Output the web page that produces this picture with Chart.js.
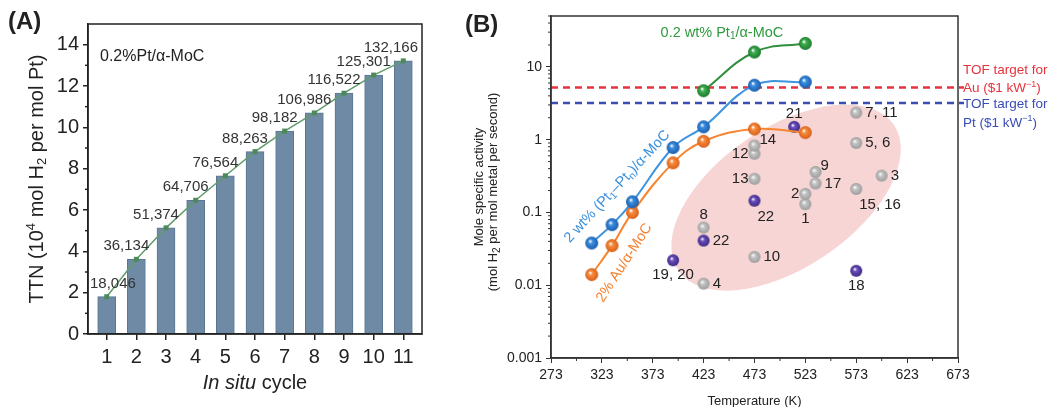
<!DOCTYPE html>
<html>
<head>
<meta charset="utf-8">
<script src="https://cdn.jsdelivr.net/npm/chart.js@4"></script>
<style>
  body { margin: 0; background: #fff; width: 1056px; height: 407px; overflow: hidden; position: relative; }
  canvas { position: absolute; top: 0; }
  #chartA { left: 0; }
  #chartB { left: 440px; }
</style>
</head>
<body>
<canvas id="chartA" width="440" height="407"></canvas>
<canvas id="chartB" width="616" height="407"></canvas>
<script>
// ---- Panel A data ----
var cycles = [1, 2, 3, 4, 5, 6, 7, 8, 9, 10, 11];
var ttn = [18046, 36134, 51374, 64706, 76564, 88263, 98182, 106986, 116522, 125301, 132166];
var ttnTicks = [0, 2, 4, 6, 8, 10, 12, 14];

// ---- Panel B data ----
var tempTicks = [273, 323, 373, 423, 473, 523, 573, 623, 673];
var activityTicks = [0.001, 0.01, 0.1, 1, 10];

var pt1Temp = [423, 473, 523];
var pt1Activity = [4.7, 16, 21];

var ptnTemp = [313, 333, 353, 393, 423, 473, 523];
var ptnActivity = [0.038, 0.068, 0.14, 0.78, 1.5, 5.6, 6.2];

var auTemp = [313, 333, 353, 393, 423, 473, 523];
var auActivity = [0.014, 0.035, 0.10, 0.48, 0.95, 1.4, 1.25];

var auTarget = 5.2;
var ptTarget = 3.2;

var greyLabels = ['1', '2', '3', '4', '5, 6', '7, 11', '8', '9', '10', '12', '13', '14', '15, 16', '17'];
var greyTemp = [523, 523, 598, 423, 573, 573, 423, 533, 473, 473, 473, 473, 573, 533];
var greyActivity = [0.13, 0.18, 0.32, 0.0105, 0.9, 2.35, 0.062, 0.36, 0.0245, 0.64, 0.29, 0.83, 0.21, 0.25];
var greySide = ['below', 'left', 'right', 'right', 'right', 'right', 'above', 'aboveright', 'right', 'left', 'left', 'aboveright', 'belowright', 'right'];

var purpleLabels = ['18', '19, 20', '21', '22', '22'];
var purpleTemp = [573, 393, 512, 473, 423];
var purpleActivity = [0.0158, 0.022, 1.5, 0.145, 0.041];
var purpleSide = ['below', 'below', 'above', 'belowright', 'right'];

// shaded region: ends of the long axis (temperature, activity)
var regionEnds = [[398, 0.016], [610, 1.6]];

var family = '"Liberation Sans", Arial, Helvetica, sans-serif';
Chart.defaults.font.family = family;
Chart.defaults.color = '#222';

function richText(ctx, parts, x, y, angle, align, color) {
  ctx.save();
  ctx.translate(x, y);
  ctx.rotate(angle || 0);
  ctx.textBaseline = 'middle';
  ctx.textAlign = 'left';
  ctx.fillStyle = color || '#222';
  var w = 0;
  parts.forEach(function(p) { ctx.font = p.font; w += ctx.measureText(p.t).width; });
  var cx = align === 'left' ? 0 : -w / 2;
  parts.forEach(function(p) {
    ctx.font = p.font;
    ctx.fillText(p.t, cx, p.dy || 0);
    cx += ctx.measureText(p.t).width;
  });
  ctx.restore();
}

function tick(ctx, x1, y1, x2, y2) {
  ctx.beginPath();
  ctx.moveTo(x1, y1);
  ctx.lineTo(x2, y2);
  ctx.stroke();
}

function makeBall(base, dark, r) {
  var c = document.createElement('canvas');
  c.width = c.height = 2 * r + 2;
  var g = c.getContext('2d');
  var cx = r + 1, cy = r + 1;
  var grad = g.createRadialGradient(cx - r * 0.25, cy - r * 0.3, r * 0.05, cx, cy, r);
  grad.addColorStop(0, '#ffffff');
  grad.addColorStop(0.3, base);
  grad.addColorStop(1, dark);
  g.fillStyle = grad;
  g.beginPath();
  g.arc(cx, cy, r, 0, Math.PI * 2);
  g.fill();
  return c;
}

// ================= Panel A =================
var panelADecor = {
  id: 'panelADecor',
  afterDraw: function(chart) {
    var ctx = chart.ctx, a = chart.chartArea, ys = chart.scales.y;
    ctx.save();
    ctx.strokeStyle = '#222';
    ctx.lineWidth = 1.5;
    ctx.strokeRect(a.left, a.top, a.right - a.left, a.bottom - a.top);
    for (var v = 1; v < 15; v += 2) {
      var py = ys.getPixelForValue(v);
      tick(ctx, a.left - 3, py, a.left, py);
    }

    // value labels
    ctx.font = '15px ' + family;
    ctx.fillStyle = '#333';
    ctx.textAlign = 'center';
    ctx.textBaseline = 'middle';
    chart.getDatasetMeta(0).data.forEach(function(pt, i) {
      var s = ttn[i].toLocaleString('en-US');
      var w = ctx.measureText(s).width;
      var cx = Math.max(pt.x - 10, a.left + 2 + w / 2);
      cx = Math.min(cx, a.right - 4 - w / 2);
      ctx.fillText(s, cx, pt.y - 13);
    });

    ctx.textAlign = 'left';
    ctx.font = '16px ' + family;
    ctx.fillStyle = '#222';
    ctx.fillText('0.2%Pt/\u03b1-MoC', a.left + 12, a.top + 33);

    ctx.font = 'bold 24px ' + family;
    ctx.fillText('(A)', 8, 22);
    ctx.restore();

    var f = '20px ' + family, fs = '13px ' + family;
    richText(ctx, [
      { t: 'TTN (10', font: f },
      { t: '4', font: fs, dy: -6 },
      { t: ' mol H', font: f },
      { t: '2', font: fs, dy: 5 },
      { t: ' per mol Pt)', font: f }
    ], 37, (a.top + a.bottom) / 2, -Math.PI / 2);
    richText(ctx, [
      { t: 'In situ', font: 'italic 20px ' + family },
      { t: ' cycle', font: f }
    ], (a.left + a.right) / 2, 383, 0);
  }
};

new Chart(document.getElementById('chartA'), {
  type: 'bar',
  data: {
    datasets: [
      {
        type: 'line',
        data: cycles.map(function(c, i) { return { x: c, y: ttn[i] / 1e4 }; }),
        borderColor: '#5f9c6c',
        borderWidth: 1.5,
        pointStyle: 'rect',
        pointRadius: 3.5,
        pointBackgroundColor: '#4b8a58',
        pointBorderWidth: 0,
        order: 0
      },
      {
        type: 'bar',
        data: cycles.map(function(c, i) { return { x: c, y: ttn[i] / 1e4 }; }),
        backgroundColor: '#6f8aa5',
        borderColor: '#5b7690',
        borderWidth: 1,
        barThickness: 18,
        order: 1
      }
    ]
  },
  options: {
    responsive: false,
    animation: false,
    layout: { padding: { left: 0, right: 18, top: 24, bottom: 0 } },
    plugins: { legend: { display: false }, tooltip: { enabled: false } },
    scales: {
      x: {
        type: 'linear', min: 0.37, max: 11.63, bounds: 'data', offset: false,
        afterBuildTicks: function(s) { s.ticks = cycles.map(function(v) { return { value: v }; }); },
        afterFit: function(s) { s.height = 73; },
        grid: { display: true, drawOnChartArea: false, offset: false, tickLength: 6, color: '#222', lineWidth: 1.5 },
        border: { display: true, color: '#222', width: 1.5 },
        ticks: { color: '#222', font: { size: 20 }, padding: 5, maxRotation: 0, autoSkip: false }
      },
      y: {
        min: 0, max: 15, bounds: 'data',
        afterBuildTicks: function(s) { s.ticks = ttnTicks.map(function(v) { return { value: v }; }); },
        afterFit: function(s) { s.width = 88; },
        grid: { display: true, drawOnChartArea: false, tickLength: 5, color: '#222', lineWidth: 1.5 },
        border: { display: true, color: '#222', width: 1.5 },
        ticks: { color: '#222', font: { size: 20 }, padding: 4 }
      }
    }
  },
  plugins: [panelADecor]
});

// ================= Panel B =================
var greenBall = makeBall('#3fae4f', '#1d7a2c', 6.5);
var blueBall = makeBall('#3b8fe0', '#1c5cad', 6.5);
var orangeBall = makeBall('#f88b3c', '#d7601a', 6.5);
var greyBall = makeBall('#c6c6c6', '#9c9c9c', 6);
var purpleBall = makeBall('#6b4fbd', '#3c2882', 6);

var panelBBack = {
  id: 'panelBBack',
  beforeDatasetsDraw: function(chart) {
    var ctx = chart.ctx, a = chart.chartArea, xs = chart.scales.x, ys = chart.scales.y;
    var x0 = xs.getPixelForValue(regionEnds[0][0]), y0 = ys.getPixelForValue(regionEnds[0][1]);
    var x1 = xs.getPixelForValue(regionEnds[1][0]), y1 = ys.getPixelForValue(regionEnds[1][1]);
    ctx.save();
    ctx.fillStyle = 'rgba(235,150,150,0.4)';
    ctx.beginPath();
    ctx.ellipse((x0 + x1) / 2, (y0 + y1) / 2, Math.hypot(x1 - x0, y1 - y0) / 2, 70, Math.atan2(y1 - y0, x1 - x0), 0, Math.PI * 2);
    ctx.fill();

    ctx.lineWidth = 2.5;
    ctx.setLineDash([7, 5]);
    [[auTarget, '#e8323c'], [ptTarget, '#3a4db5']].forEach(function(t) {
      var py = ys.getPixelForValue(t[0]);
      ctx.strokeStyle = t[1];
      tick(ctx, a.left, py, a.right + 6, py);
    });
    ctx.restore();
  },
  afterDraw: function(chart) {
    var ctx = chart.ctx, a = chart.chartArea, xs = chart.scales.x, ys = chart.scales.y;
    ctx.save();
    ctx.strokeStyle = '#333';
    ctx.lineWidth = 1.5;
    ctx.strokeRect(a.left, a.top, a.right - a.left, a.bottom - a.top);
    ctx.lineWidth = 1;
    for (var t = 298; t < 673; t += 50) {
      var px = xs.getPixelForValue(t);
      tick(ctx, px, a.bottom, px, a.bottom + 3);
    }
    for (var d = 0.001; d < 50; d *= 10) {
      for (var k = 2; k <= 9; k++) {
        var v = d * k;
        if (v > 50) break;
        var py = ys.getPixelForValue(v);
        tick(ctx, a.left - 3, py, a.left, py);
      }
    }

    // point labels
    ctx.font = '15px ' + family;
    ctx.fillStyle = '#222';
    ctx.textBaseline = 'middle';
    function place(meta, labels, sides) {
      meta.data.forEach(function(pt, i) {
        var s = sides[i], x = pt.x, y = pt.y;
        if (s === 'right') { ctx.textAlign = 'left'; x += 9; }
        else if (s === 'left') { ctx.textAlign = 'right'; x -= 6; }
        else if (s === 'above') { ctx.textAlign = 'center'; y -= 13; }
        else if (s === 'below') { ctx.textAlign = 'center'; y += 15; }
        else if (s === 'aboveright') { ctx.textAlign = 'left'; x += 5; y -= 6; }
        else if (s === 'belowright') { ctx.textAlign = 'left'; x += 3; y += 16; }
        ctx.fillText(labels[i], x, y);
      });
    }
    place(chart.getDatasetMeta(3), greyLabels, greySide);
    place(chart.getDatasetMeta(4), purpleLabels, purpleSide);

    ctx.textAlign = 'left';
    ctx.font = 'bold 24px ' + family;
    ctx.fillText('(B)', 25, 25);
    ctx.restore();

    var f13 = '13px ' + family, f14 = '14.5px ' + family, s10 = '10px ' + family;
    // axis titles
    richText(ctx, [{ t: 'Mole specific activity', font: f13 }], 39, 187, -Math.PI / 2);
    richText(ctx, [
      { t: '(mol H', font: f13 },
      { t: '2', font: s10, dy: 4 },
      { t: ' per mol metal per second)', font: f13 }
    ], 53, 192, -Math.PI / 2);
    richText(ctx, [{ t: 'Temperature (K)', font: f13 }], (a.left + a.right) / 2, 401, 0);

    // series labels
    richText(ctx, [
      { t: '0.2 wt% Pt', font: f14 },
      { t: '1', font: s10, dy: 4 },
      { t: '/\u03b1-MoC', font: f14 }
    ], xs.getPixelForValue(441), ys.getPixelForValue(29.6), 0, 'center', '#2e9a3e');
    richText(ctx, [
      { t: '2 wt% (Pt', font: f14 },
      { t: '1', font: s10, dy: 4 },
      { t: '\u2013Pt', font: f14 },
      { t: 'n', font: s10, dy: 4 },
      { t: ')/\u03b1-MoC', font: f14 }
    ], xs.getPixelForValue(338), ys.getPixelForValue(0.226), -47 * Math.PI / 180, 'center', '#3a8fdc');
    richText(ctx, [{ t: '2% Au/\u03b1-MoC', font: f14 }],
      xs.getPixelForValue(345), ys.getPixelForValue(0.0203), -57 * Math.PI / 180, 'center', '#f58232');

    // target labels
    var ry = ys.getPixelForValue(auTarget), by = ys.getPixelForValue(ptTarget);
    var f135 = '13.5px ' + family, s9 = '9px ' + family;
    richText(ctx, [{ t: 'TOF target for', font: f135 }], a.right + 5, ry - 17, 0, 'left', '#e8323c');
    richText(ctx, [
      { t: 'Au ($1 kW', font: f135 },
      { t: '\u22121', font: s9, dy: -4 },
      { t: ')', font: f135 }
    ], a.right + 5, ry + 1, 0, 'left', '#e8323c');
    richText(ctx, [{ t: 'TOF target for', font: f135 }], a.right + 5, by + 1, 0, 'left', '#3a4db5');
    richText(ctx, [
      { t: 'Pt ($1 kW', font: f135 },
      { t: '\u22121', font: s9, dy: -4 },
      { t: ')', font: f135 }
    ], a.right + 5, by + 20, 0, 'left', '#3a4db5');
  }
};

function pairs(xs, ys) {
  return xs.map(function(x, i) { return { x: x, y: ys[i] }; });
}

new Chart(document.getElementById('chartB'), {
  type: 'line',
  data: {
    datasets: [
      { data: pairs(pt1Temp, pt1Activity), borderColor: '#2f8f3f', borderWidth: 2, tension: 0.4, pointStyle: greenBall },
      { data: pairs(ptnTemp, ptnActivity), borderColor: '#3d94e0', borderWidth: 2, tension: 0.4, pointStyle: blueBall },
      { data: pairs(auTemp, auActivity), borderColor: '#f7852f', borderWidth: 2, tension: 0.4, pointStyle: orangeBall },
      { data: pairs(greyTemp, greyActivity), showLine: false, pointStyle: greyBall },
      { data: pairs(purpleTemp, purpleActivity), showLine: false, pointStyle: purpleBall }
    ]
  },
  options: {
    responsive: false,
    animation: false,
    layout: { padding: { left: 0, right: 98, top: 16, bottom: 0 } },
    plugins: { legend: { display: false }, tooltip: { enabled: false } },
    scales: {
      x: {
        type: 'linear', min: 273, max: 673, bounds: 'data',
        afterBuildTicks: function(s) { s.ticks = tempTicks.map(function(v) { return { value: v }; }); },
        afterFit: function(s) { s.height = 49; },
        grid: { display: true, drawOnChartArea: false, tickLength: 5, color: '#333', lineWidth: 1 },
        border: { display: true, color: '#333', width: 1.5 },
        ticks: { color: '#222', font: { size: 14 }, padding: 4, maxRotation: 0, autoSkip: false }
      },
      y: {
        type: 'logarithmic', min: 0.001, max: 50, bounds: 'data',
        afterBuildTicks: function(s) { s.ticks = activityTicks.map(function(v) { return { value: v }; }); },
        afterFit: function(s) { s.width = 111; },
        grid: { display: true, drawOnChartArea: false, tickLength: 5, color: '#333', lineWidth: 1 },
        border: { display: true, color: '#333', width: 1.5 },
        ticks: { color: '#222', font: { size: 14 }, padding: 4, callback: function(v) { return String(v); } }
      }
    }
  },
  plugins: [panelBBack]
});
</script>
</body>
</html>
